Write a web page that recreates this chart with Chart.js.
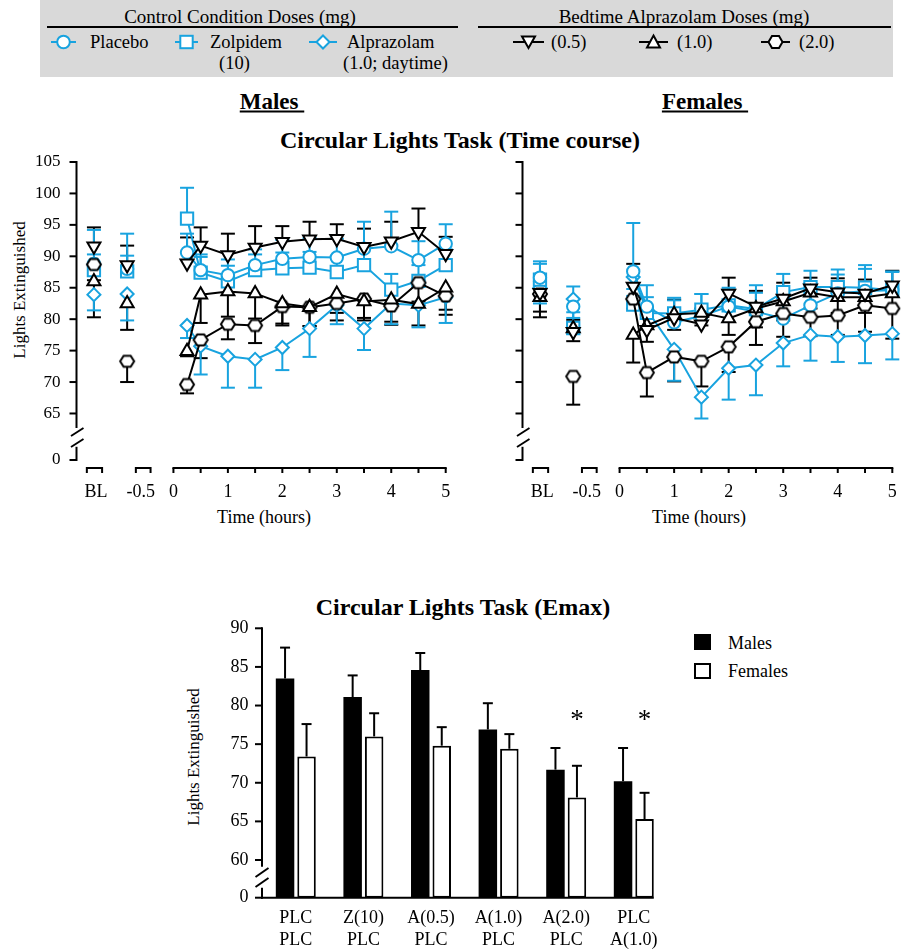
<!DOCTYPE html>
<html>
<head>
<meta charset="utf-8">
<title>Circular Lights Task</title>
<script src="https://cdn.jsdelivr.net/npm/chart.js@4.4.1/dist/chart.umd.min.js"></script>
<style>
  body { margin: 0; background: #fff; }
  #page { position: relative; width: 903px; height: 949px; overflow: hidden;
          font-family: "Liberation Serif", "Times New Roman", serif; color: #000; }
  .t { position: absolute; white-space: nowrap; line-height: 1; }
  .c { transform: translate(-50%, -50%); }
  .m { transform: translateY(-50%); }
  .lg { font-size: 18.5px; }
  .h { font-weight: bold; font-size: 23px; }
  .tt { font-weight: bold; font-size: 24px; }
  canvas { position: absolute; }
  #legendBox { position: absolute; left: 40px; top: 0; width: 853px; height: 77px; background: #d9d9d9; }
  .rule { position: absolute; height: 2px; background: #000; }
</style>
</head>
<body>
<div id="page">
  <!-- legend box -->
  <div id="legendBox"></div>
  <div class="t c" style="left:240px;top:16px;font-size:19px">Control Condition Doses (mg)</div>
  <div class="rule" style="left:47px;top:26px;width:411px"></div>
  <div class="t c" style="left:684px;top:16px;font-size:19px">Bedtime Alprazolam Doses (mg)</div>
  <div class="rule" style="left:478px;top:26px;width:413px"></div>
  <svg style="position:absolute;left:0;top:0" width="903" height="77">
    <g stroke-width="2" fill="#fff">
      <line x1="51" y1="42" x2="76" y2="42" stroke="#18a3df"/>
      <circle cx="63.5" cy="42" r="6.3" stroke="#18a3df"/>
      <line x1="175" y1="42" x2="198" y2="42" stroke="#18a3df"/>
      <rect x="180.3" y="35.8" width="12.4" height="12.4" stroke="#18a3df"/>
      <line x1="309" y1="42" x2="337" y2="42" stroke="#18a3df"/>
      <polygon points="323,35.5 329.5,42 323,48.5 316.5,42" stroke="#18a3df"/>
      <line x1="513" y1="42" x2="544" y2="42" stroke="#000"/>
      <polygon points="522,36.5 535,36.5 528.5,48" stroke="#000"/>
      <line x1="639" y1="42" x2="668" y2="42" stroke="#000"/>
      <polygon points="653.5,35.5 660,47.5 647,47.5" stroke="#000"/>
      <line x1="761" y1="42" x2="790" y2="42" stroke="#000"/>
      <polygon points="782.5,42 779,48 772,48 768.5,42 772,36 779,36" stroke="#000"/>
    </g>
  </svg>
  <div class="t m lg" style="left:90px;top:42px">Placebo</div>
  <div class="t m lg" style="left:210px;top:42px">Zolpidem</div>
  <div class="t m lg" style="left:219px;top:63px">(10)</div>
  <div class="t m lg" style="left:347px;top:42px">Alprazolam</div>
  <div class="t m lg" style="left:343px;top:63px">(1.0; daytime)</div>
  <div class="t m lg" style="left:551px;top:42px">(0.5)</div>
  <div class="t m lg" style="left:677px;top:42px">(1.0)</div>
  <div class="t m lg" style="left:799px;top:42px">(2.0)</div>

  <!-- time course headings -->
  <div class="t c h" style="left:272px;top:101px;text-decoration:underline">Males&nbsp;</div>
  <div class="t c h" style="left:705px;top:101px;text-decoration:underline">Females&nbsp;</div>
  <div class="t c tt" style="left:460px;top:140px">Circular Lights Task (Time course)</div>
  <div class="t" style="left:19px;top:290px;font-size:17px;transform:translate(-50%,-50%) rotate(-90deg)">Lights Extinguished</div>
  <div class="t c" style="left:264px;top:517px;font-size:18px">Time (hours)</div>
  <div class="t c" style="left:699px;top:517px;font-size:18px">Time (hours)</div>

  <canvas id="males" width="460" height="380" style="left:0;top:150px"></canvas>
  <canvas id="females" width="453" height="380" style="left:450px;top:150px"></canvas>

  <!-- Emax bar chart -->
  <div class="t c tt" style="left:463px;top:607px">Circular Lights Task (Emax)</div>
  <div class="t" style="left:193px;top:757px;font-size:17px;transform:translate(-50%,-50%) rotate(-90deg)">Lights Extinguished</div>
  <div style="position:absolute;left:694px;top:634px;width:17px;height:16px;background:#000"></div>
  <div class="t m" style="left:728px;top:643px;font-size:18px">Males</div>
  <div style="position:absolute;left:694px;top:663px;width:17px;height:16px;background:#fff;border:2px solid #000;box-sizing:border-box"></div>
  <div class="t m" style="left:728px;top:671px;font-size:18px">Females</div>
  <canvas id="emax" width="743" height="359" style="left:160px;top:590px"></canvas>
</div>

<script>
// ---- Time course data: BL, -0.5 h, then the hours below ----
const timeHours = [0.25, 0.5, 1, 1.5, 2, 2.5, 3, 3.5, 4, 4.5, 5];
const preLabels = ['BL', '-0.5'];
const hourLabels = ['0', '1', '2', '3', '4', '5'];
const yTicks = [65, 70, 75, 80, 85, 90, 95, 100, 105];

// Males
const malePlacebo     = [88.8, 88.0, 90.6, 87.8, 87.0, 88.6, 89.6, 89.9, 89.8, 91.2, 91.6, 89.4, 92.0];
const malePlaceboErr  = [5.4, 5.6, 3.0, 2.5, 2.5, 2.5, 3.0, 3.0, 3.0, 4.3, 5.5, 3.0, 3.1];
const maleZolpidem    = [87.8, 87.6, 96.0, 87.4, 86.0, 87.8, 88.1, 88.2, 87.5, 88.6, 84.7, 86.1, 88.6];
const maleZolpidemErr = [2.5, 2.5, 4.9, 2.5, 2.5, 2.5, 2.5, 2.5, 2.5, 2.5, 2.5, 2.5, 2.5];
const maleAlpDay      = [83.9, 84.0, 79.0, 75.7, 74.1, 73.6, 75.5, 78.5, 82.2, 78.5, 82.5, 82.2, 83.5];
const maleAlpDayErr   = [2.5, 4.2, 2.0, 4.5, 5.0, 4.5, 3.6, 4.5, 3.0, 3.4, 3.3, 3.5, 4.1];
const maleAlp05       = [91.6, 88.6, 88.9, 91.7, 90.2, 91.4, 92.3, 92.7, 92.8, 91.5, 92.4, 93.9, 90.4];
const maleAlp05Err    = [3.0, 3.1, 4.1, 2.9, 3.4, 3.4, 2.5, 2.8, 2.3, 2.9, 3.1, 3.7, 2.7];
const maleAlp10       = [86.0, 82.5, 74.9, 83.9, 84.4, 84.1, 82.5, 81.9, 84.0, 82.8, 83.1, 82.4, 85.0];
const maleAlp10Err    = [5.7, 4.2, 0.8, 4.5, 4.0, 4.0, 3.2, 3.0, 3.0, 3.0, 3.5, 3.4, 3.5];
const maleAlp20       = [88.7, 73.3, 69.6, 76.7, 79.2, 79.0, 82.0, 81.9, 82.5, 83.2, 82.1, 85.8, 83.7];
const maleAlp20Err    = [2.5, 3.3, 1.4, 2.9, 2.4, 2.8, 3.0, 3.0, 2.7, 3.0, 3.0, 3.0, 3.0];

// Females
const femalePlacebo     = [86.6, 82.0, 87.6, 82.0, 79.5, 80.5, 82.0, 81.2, 80.1, 82.2, 84.1, 84.5, 84.6];
const femalePlaceboErr  = [2.6, 3.2, 7.7, 3.4, 3.5, 3.5, 3.0, 3.0, 3.5, 3.5, 3.0, 3.5, 3.0];
const femaleZolpidem    = [86.3, 78.6, 82.3, 81.0, 80.9, 81.5, 82.2, 81.6, 84.3, 85.1, 85.1, 85.0, 84.6];
const femaleZolpidemErr = [2.5, 2.5, 2.5, 2.5, 2.5, 2.5, 2.5, 3.8, 2.9, 2.6, 2.8, 3.6, 2.9];
const femaleAlpDay      = [85.0, 83.2, 86.7, 81.5, 75.2, 67.6, 72.2, 72.7, 76.2, 77.5, 77.2, 77.4, 77.7];
const femaleAlpDayErr   = [2.5, 3.0, 3.0, 3.0, 5.0, 3.4, 5.0, 4.8, 3.7, 4.1, 4.0, 4.4, 4.1];
const femaleAlp05       = [84.2, 78.0, 85.2, 78.3, 80.2, 79.2, 84.1, 82.0, 83.3, 84.9, 84.3, 84.1, 85.4];
const femaleAlp05Err    = [1.8, 1.9, 3.6, 2.4, 2.9, 2.5, 2.5, 2.5, 2.5, 1.7, 2.2, 2.2, 2.3];
const femaleAlp10       = [83.5, 78.5, 77.5, 79.0, 80.8, 81.0, 80.1, 81.7, 82.8, 84.2, 83.5, 83.5, 84.1];
const femaleAlp10Err    = [3.2, 2.0, 4.4, 2.6, 2.5, 2.0, 2.6, 3.0, 3.0, 2.5, 2.5, 2.5, 2.5];
const femaleAlp20       = [84.0, 70.9, 83.2, 71.5, 74.0, 73.3, 75.6, 79.6, 80.9, 80.3, 80.6, 82.2, 81.7];
const femaleAlp20Err    = [2.8, 4.5, 1.5, 3.8, 3.9, 4.0, 4.0, 3.7, 3.7, 3.0, 3.1, 4.2, 4.8];

// ---- Emax data ----
const emaxTop        = ['PLC', 'Z(10)', 'A(0.5)', 'A(1.0)', 'A(2.0)', 'PLC'];
const emaxBottom     = ['PLC', 'PLC', 'PLC', 'PLC', 'PLC', 'A(1.0)'];
const emaxMales      = [83.5, 81.1, 84.6, 76.9, 71.7, 70.2];
const emaxMalesErr   = [4.0, 2.8, 2.2, 3.4, 2.8, 4.3];
const emaxFemales    = [73.4, 76.0, 74.8, 74.4, 68.1, 65.3];
const emaxFemalesErr = [4.2, 3.0, 2.4, 1.9, 4.1, 3.4];
const emaxStar       = [false, false, false, false, true, true];
const emaxTicks      = [60, 65, 70, 75, 80, 85, 90];

const BLUE = '#18a3df';
const FONT = '"Liberation Serif", "Times New Roman", serif';

// where the pre-dose points sit on the hour axis
const xBL = -1.46, xPre = -0.85;

function hexMarker(color) {
  const c = document.createElement('canvas');
  c.width = 18; c.height = 18;
  const g = c.getContext('2d');
  g.beginPath();
  for (let k = 0; k < 6; k++) {
    const a = Math.PI / 3 * k;
    g.lineTo(9 + 7 * Math.cos(a), 9 + 6.4 * Math.sin(a));
  }
  g.closePath();
  g.fillStyle = '#fff'; g.fill();
  g.lineWidth = 2; g.strokeStyle = color; g.stroke();
  return c;
}
const HEX = hexMarker('#000');

function seg(ctx, x1, y1, x2, y2) {
  ctx.beginPath(); ctx.moveTo(x1, y1); ctx.lineTo(x2, y2); ctx.stroke();
}

// axes for the time-course panels (broken y axis, split x axis)
const timeAxes = {
  id: 'timeAxes',
  beforeDatasetsDraw(chart, args, opts) {
    const { ctx, chartArea: a, scales: { x, y } } = chart;
    const ax = a.left;
    ctx.save();
    ctx.strokeStyle = '#000'; ctx.fillStyle = '#000'; ctx.lineWidth = 2;
    seg(ctx, ax, y.getPixelForValue(105) - 1, ax, y.getPixelForValue(62.7));
    seg(ctx, ax, y.getPixelForValue(59.7), ax, a.bottom + 1);
    [62.05, 60.3].forEach(v => {
      const py = y.getPixelForValue(v);
      seg(ctx, ax - 5.5, py + 4, ax + 7, py - 4);
    });
    ctx.font = '17px ' + FONT;
    ctx.textAlign = 'right'; ctx.textBaseline = 'middle';
    yTicks.forEach(v => {
      const py = y.getPixelForValue(v);
      seg(ctx, ax - 7, py, ax, py);
      if (opts.yLabels) ctx.fillText(String(v), ax - 16, py);
    });
    seg(ctx, ax - 7, a.bottom, ax, a.bottom);
    if (opts.yLabels) ctx.fillText('0', ax - 16, a.bottom);

    // x axis
    const by = a.bottom + 8;
    const bracket = (v1, v2) => {
      const x1 = x.getPixelForValue(v1), x2 = x.getPixelForValue(v2);
      ctx.beginPath();
      ctx.moveTo(x1, by + 5); ctx.lineTo(x1, by); ctx.lineTo(x2, by); ctx.lineTo(x2, by + 5);
      ctx.stroke();
    };
    bracket(-1.59, -1.31);
    bracket(-0.69, -0.42);
    seg(ctx, x.getPixelForValue(0) - 1, by, x.getPixelForValue(5) + 1, by);
    for (let h = 0; h <= 5; h += 0.5) {
      const px = x.getPixelForValue(h);
      seg(ctx, px, by, px, by + 5);
    }
    ctx.font = '18px ' + FONT;
    ctx.textAlign = 'center'; ctx.textBaseline = 'alphabetic';
    ctx.fillText(preLabels[0], x.getPixelForValue(-1.42), by + 29);
    ctx.fillText(preLabels[1], x.getPixelForValue(-0.6), by + 29);
    hourLabels.forEach((t, i) => ctx.fillText(t, x.getPixelForValue(i), by + 29));
    ctx.restore();
  }
};

// one-sided error bars for the time-course series
const lineErrorBars = {
  id: 'lineErrorBars',
  beforeDatasetsDraw(chart) {
    const { ctx, scales: { y } } = chart;
    ctx.save();
    ctx.lineWidth = 2;
    chart.data.datasets.forEach((ds, i) => {
      const meta = chart.getDatasetMeta(i);
      ctx.strokeStyle = ds.borderColor;
      ds.data.forEach((p, j) => {
        if (p.y == null || !ds.errs[j]) return;
        const px = meta.data[j].x;
        const y0 = y.getPixelForValue(p.y);
        const y1 = y.getPixelForValue(p.y + ds.errDir * ds.errs[j]);
        seg(ctx, px, y0, px, y1);
        seg(ctx, px - 7, y1, px + 7, y1);
      });
    });
    ctx.restore();
  }
};

function makeDataset(s) {
  const pts = [
    { x: xBL, y: s.vals[0] }, { x: xBL + 0.3, y: null },
    { x: xPre, y: s.vals[1] }, { x: xPre + 0.3, y: null }
  ];
  timeHours.forEach((h, i) => pts.push({ x: h, y: s.vals[i + 2] }));
  const errs = [s.errs[0], null, s.errs[1], null].concat(s.errs.slice(2));
  return {
    data: pts, errs, errDir: s.dir,
    borderColor: s.color, borderWidth: 2,
    pointStyle: s.style, pointRotation: s.rot || 0, pointRadius: s.r, pointHoverRadius: s.r,
    pointBorderColor: s.color, pointBackgroundColor: '#fff', pointBorderWidth: 2,
    spanGaps: false, tension: 0, clip: false
  };
}

function buildTimeChart(id, v, pad, yLabels) {
  // first dataset ends up drawn on top
  const series = [
    { vals: v.a05, errs: v.a05Err, dir: 1, color: '#000', style: 'triangle', rot: 180, r: 7.5 },
    { vals: v.a10, errs: v.a10Err, dir: -1, color: '#000', style: 'triangle', r: 7.5 },
    { vals: v.a20, errs: v.a20Err, dir: -1, color: '#000', style: HEX, r: 7 },
    { vals: v.plc, errs: v.plcErr, dir: 1, color: BLUE, style: 'circle', r: 6.2 },
    { vals: v.zol, errs: v.zolErr, dir: 1, color: BLUE, style: 'rect', r: 8.7 },
    { vals: v.day, errs: v.dayErr, dir: -1, color: BLUE, style: 'rectRot', r: 6.5 }
  ];
  return new Chart(document.getElementById(id), {
    type: 'line',
    data: { datasets: series.map(makeDataset) },
    options: {
      responsive: false, animation: false, devicePixelRatio: 1, events: [],
      layout: { padding: pad },
      scales: {
        x: { type: 'linear', min: -1.78, max: 5, display: false },
        y: { min: 57.6, max: 105, display: false }
      },
      plugins: { legend: { display: false }, tooltip: { enabled: false }, timeAxes: { yLabels } }
    },
    plugins: [timeAxes, lineErrorBars]
  });
}

buildTimeChart('males', {
  plc: malePlacebo, plcErr: malePlaceboErr, zol: maleZolpidem, zolErr: maleZolpidemErr,
  day: maleAlpDay, dayErr: maleAlpDayErr, a05: maleAlp05, a05Err: maleAlp05Err,
  a10: maleAlp10, a10Err: maleAlp10Err, a20: maleAlp20, a20Err: maleAlp20Err
}, { left: 76.5, right: 14.3, top: 12, bottom: 70 }, true);

buildTimeChart('females', {
  plc: femalePlacebo, plcErr: femalePlaceboErr, zol: femaleZolpidem, zolErr: femaleZolpidemErr,
  day: femaleAlpDay, dayErr: femaleAlpDayErr, a05: femaleAlp05, a05Err: femaleAlp05Err,
  a10: femaleAlp10, a10Err: femaleAlp10Err, a20: femaleAlp20, a20Err: femaleAlp20Err
}, { left: 72.5, right: 8, top: 12, bottom: 70 }, false);

// axes, error bars and labels for the Emax bars
const emaxAxes = {
  id: 'emaxAxes',
  afterDatasetsDraw(chart) {
    const { ctx, chartArea: a, scales: { x, y } } = chart;
    const ax = a.left;
    ctx.save();
    ctx.strokeStyle = '#000'; ctx.fillStyle = '#000'; ctx.lineWidth = 2;

    chart.data.datasets.forEach((ds, i) => {
      chart.getDatasetMeta(i).data.forEach((bar, j) => {
        const yTop = y.getPixelForValue(ds.data[j]);
        const yCap = y.getPixelForValue(ds.data[j] + ds.errs[j]);
        seg(ctx, bar.x, yTop, bar.x, yCap);
        seg(ctx, bar.x - 5, yCap, bar.x + 5, yCap);
      });
    });

    // y axis with break
    seg(ctx, ax, y.getPixelForValue(90) - 1, ax, y.getPixelForValue(59.13));
    seg(ctx, ax, y.getPixelForValue(56.4), ax, a.bottom + 1);
    [58.38, 57.09].forEach(v => {
      const py = y.getPixelForValue(v);
      seg(ctx, ax - 6.5, py + 4.5, ax + 6.5, py - 4.5);
    });
    ctx.font = '18px ' + FONT;
    ctx.textAlign = 'right'; ctx.textBaseline = 'middle';
    emaxTicks.forEach(v => {
      const py = y.getPixelForValue(v);
      seg(ctx, ax - 7, py, ax, py);
      ctx.fillText(String(v), ax - 13.5, py);
    });
    seg(ctx, ax - 7, a.bottom, ax, a.bottom);
    ctx.fillText('0', ax - 13.5, a.bottom);

    // x axis up to the last bar
    const last = chart.getDatasetMeta(1).data[emaxTop.length - 1];
    seg(ctx, ax - 1, a.bottom, last.x + last.width / 2, a.bottom);
    ctx.textAlign = 'center'; ctx.textBaseline = 'alphabetic';
    emaxTop.forEach((t, j) => {
      const px = x.getPixelForValue(j);
      ctx.fillText(t, px, a.bottom + 25.3);
      ctx.fillText(emaxBottom[j], px, a.bottom + 47.3);
    });

    // significance marks
    ctx.font = '27px ' + FONT;
    const fem = chart.getDatasetMeta(1).data;
    emaxStar.forEach((s, j) => {
      if (s) ctx.fillText('*', fem[j].x, y.getPixelForValue(79) + 15);
    });
    ctx.restore();
  }
};

new Chart(document.getElementById('emax'), {
  type: 'bar',
  data: {
    labels: emaxTop,
    datasets: [
      { label: 'Males', data: emaxMales, errs: emaxMalesErr, backgroundColor: '#000', borderColor: '#000', borderWidth: 0 },
      { label: 'Females', data: emaxFemales, errs: emaxFemalesErr, backgroundColor: '#fff', borderColor: '#000', borderWidth: 2, borderSkipped: false }
    ]
  },
  options: {
    responsive: false, animation: false, devicePixelRatio: 1, events: [],
    layout: { padding: { left: 102, right: 235.4, top: 38.3, bottom: 51.3 } },
    datasets: { bar: { barPercentage: 0.86, categoryPercentage: 0.636, base: 55.12 } },
    scales: {
      x: { display: false },
      y: { min: 55.12, max: 90, display: false }
    },
    plugins: { legend: { display: false }, tooltip: { enabled: false } }
  },
  plugins: [emaxAxes]
});
</script>
</body>
</html>
